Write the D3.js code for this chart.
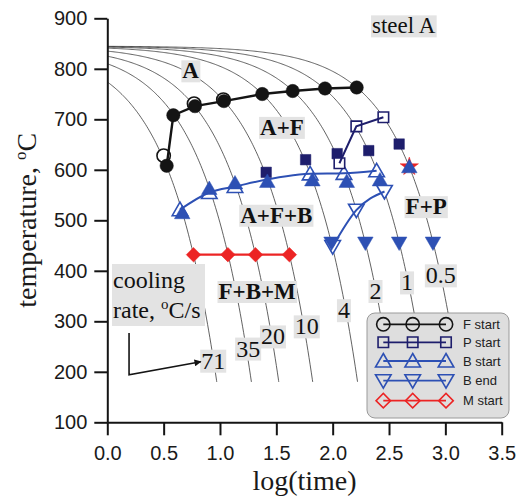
<!DOCTYPE html>
<html>
<head>
<meta charset="utf-8">
<script src="https://cdn.jsdelivr.net/npm/d3@7"></script>
<style>
  body { margin: 0; background: #fff; }
  svg { display: block; }
</style>
</head>
<body>
<div id="chart"></div>
<script>
// cooling rates (°C/s) of the curves, start temperature and end temperature
var coolingRates = [71, 35, 20, 10, 4, 2, 1, 0.5];
var startTemp = 845;
var endTemp = 180;

// where each rate label sits (log time, temperature)
var rateLabelX = [0.94, 1.25, 1.47, 1.77, 2.10, 2.38, 2.66, 2.96];
var rateLabelT = [222, 246, 270, 290, 322, 360, 377, 391];

// F start: filled circles (with line) and open circles
var fFillX = [0.527, 0.586, 0.778, 1.035, 1.375, 1.645, 1.932, 2.213];
var fFillT = [608, 708, 726, 736, 750, 756, 761, 763];
var fOpenX = [0.50, 0.77, 1.03];
var fOpenT = [628, 731, 739];

// P start: open squares (with line) and filled squares
var pOpenX = [2.06, 2.21, 2.45];
var pOpenT = [613, 686, 704];
var pFillX = [1.41, 1.76, 2.04, 2.32, 2.59];
var pFillT = [595, 620, 632, 638, 651];

// B start: open triangles (with line) and filled triangles
var bsOpenX = [0.645, 0.905, 1.133, 1.80, 2.10, 2.39];
var bsOpenT = [521, 555, 567, 592, 593, 598];
var bsFillX = [0.665, 0.905, 1.133, 1.42, 1.82, 2.125, 2.42, 2.68];
var bsFillT = [515, 563, 574, 577, 580, 577, 580, 606];

// B end: open down triangles (with line) and filled down triangles
var beOpenX = [2.0, 2.21, 2.46];
var beOpenT = [448, 520, 557];
var beFillX = [1.99, 2.29, 2.59, 2.89];
var beFillT = [455, 455, 455, 455];

// M start: filled diamonds
var msX = [0.765, 1.07, 1.315, 1.616];
var msT = [432, 432, 432, 432];

// red star below the last B start point
var starX = [2.68];
var starT = [606];

var xTicks = [0, 0.5, 1, 1.5, 2, 2.5, 3, 3.5];
var yTicks = [100, 200, 300, 400, 500, 600, 700, 800, 900];

var width = 532, height = 500;

var svg = d3.select("#chart").append("svg")
    .attr("width", width)
    .attr("height", height);

var x = d3.scaleLinear().domain([0, 3.5]).range([107.3, 501.7]);
var y = d3.scaleLinear().domain([100, 900]).range([422.3, 18.3]);

var BLACK = "#141414", NAVY = "#1e1e6c", BLUE = "#2d50b4", RED = "#ec2424";

function pts(xs, ts) {
    return xs.map(function(v, i) { return [v, ts[i]]; });
}

// cooling curves: constant rate, T = start - rate * t, plotted against log10(t)
var curveG = svg.append("g");
coolingRates.forEach(function(r) {
    var xEnd = Math.log10((startTemp - endTemp) / r);
    var xs = d3.range(0, xEnd, 0.01).concat([xEnd]);
    var line = d3.line()
        .x(function(v) { return x(v); })
        .y(function(v) { return y(startTemp - r * Math.pow(10, v)); });
    curveG.append("path")
        .attr("d", line(xs))
        .attr("fill", "none")
        .attr("stroke", "#3a3a3a")
        .attr("stroke-width", 0.8);
});

// axes
var yAxis = d3.axisLeft(y).tickValues(yTicks).tickSizeInner(13).tickSizeOuter(0).tickPadding(7);
var xAxis = d3.axisBottom(x).tickValues(xTicks).tickSizeInner(13).tickSizeOuter(0).tickPadding(11)
    .tickFormat(d3.format(".1f"));

var gy = svg.append("g").attr("transform", "translate(" + x(0) + ",0)").call(yAxis);
var gx = svg.append("g").attr("transform", "translate(0," + y(100) + ")").call(xAxis);
[gx, gy].forEach(function(g) {
    g.select(".domain").attr("stroke", BLACK).attr("stroke-width", 2);
    g.selectAll(".tick line").attr("stroke", BLACK).attr("stroke-width", 2);
    g.selectAll(".tick text")
        .attr("fill", "#1a1a1a")
        .style("font-family", "Liberation Sans, Arial, sans-serif")
        .style("font-size", "20px");
});

// axis titles
svg.append("text")
    .attr("transform", "translate(36," + (y(100) + y(900)) / 2 + ") rotate(-90)")
    .attr("text-anchor", "middle")
    .style("font-family", "Liberation Serif, Times New Roman, serif")
    .style("font-size", "28px")
    .attr("fill", "#1a1a1a")
    .text("temperature, ")
    .append("tspan").attr("dy", -10).style("font-size", "17px").text("o")
    .select(function() { return this.parentNode; })
    .append("tspan").attr("dy", 10).text("C");

svg.append("text")
    .attr("x", (x(0) + x(3.5)) / 2)
    .attr("y", 490)
    .attr("text-anchor", "middle")
    .style("font-family", "Liberation Serif, Times New Roman, serif")
    .style("font-size", "28px")
    .attr("fill", "#1a1a1a")
    .text("log(time)");

// text with grey box behind
function boxedText(px, py, str, size, bold) {
    var g = svg.append("g");
    var t = g.append("text")
        .attr("x", px).attr("y", py)
        .attr("text-anchor", "middle")
        .attr("dominant-baseline", "central")
        .style("font-family", "Liberation Serif, Times New Roman, serif")
        .style("font-size", size + "px")
        .style("font-weight", bold ? "bold" : "normal")
        .attr("fill", "#111")
        .text(str);
    var b = t.node().getBBox();
    g.insert("rect", "text")
        .attr("x", b.x - 1).attr("y", b.y + 2)
        .attr("width", b.width + 2).attr("height", b.height - 3)
        .attr("fill", "#e3e3e3");
    return g;
}

// rate labels
coolingRates.forEach(function(r, i) {
    boxedText(x(rateLabelX[i]), y(rateLabelT[i]), String(r), 24, false);
});

// phase labels
boxedText(x(0.74), y(796), "A", 23, true);
boxedText(x(1.55), y(684), "A+F", 23, true);
boxedText(x(1.50), y(510), "A+F+B", 23, true);
boxedText(x(2.83), y(527), "F+P", 23, true);
boxedText(x(1.33), y(359), "F+B+M", 23, true);
boxedText(x(2.63), y(885), "steel A", 23, false);

// cooling rate note
var note = svg.append("g");
note.append("rect").attr("x", 112).attr("y", 264).attr("width", 93).attr("height", 62).attr("fill", "#e3e3e3");
note.append("text").attr("x", 113).attr("y", 288)
    .style("font-family", "Liberation Serif, Times New Roman, serif").style("font-size", "24px").attr("fill", "#111")
    .text("cooling");
var t2 = note.append("text").attr("x", 113).attr("y", 318)
    .style("font-family", "Liberation Serif, Times New Roman, serif").style("font-size", "24px").attr("fill", "#111")
    .text("rate, ");
t2.append("tspan").attr("dy", -9).style("font-size", "15px").text("o");
t2.append("tspan").attr("dy", 9).text("C/s");

// arrow to the 71 curve
svg.append("defs").append("marker")
    .attr("id", "arr").attr("viewBox", "0 0 10 10").attr("refX", 9).attr("refY", 5)
    .attr("markerWidth", 9).attr("markerHeight", 7).attr("markerUnits", "userSpaceOnUse")
    .attr("orient", "auto")
    .append("path").attr("d", "M0,0L10,5L0,10z").attr("fill", BLACK);
var arrowPts = [[0.193, 277], [0.193, 194], [0.83, 220]];
svg.append("path")
    .attr("d", d3.line().x(function(d) { return x(d[0]); }).y(function(d) { return y(d[1]); })(arrowPts))
    .attr("fill", "none").attr("stroke", BLACK).attr("stroke-width", 1.6)
    .attr("marker-end", "url(#arr)");

// series lines
var lin = d3.line().x(function(d) { return x(d[0]); }).y(function(d) { return y(d[1]); });
var smooth = d3.line().curve(d3.curveMonotoneX).x(function(d) { return x(d[0]); }).y(function(d) { return y(d[1]); });

function drawLine(gen, data, color, w) {
    svg.append("path").attr("d", gen(data)).attr("fill", "none").attr("stroke", color).attr("stroke-width", w);
}

// marker shapes
var shapes = {
    circle: { type: d3.symbolCircle, size: 140, rot: 0 },
    square: { type: d3.symbolSquare, size: 110, rot: 0 },
    up: { type: d3.symbolTriangle, size: 105, rot: 0 },
    down: { type: d3.symbolTriangle, size: 105, rot: 180 },
    diamond: { type: d3.symbolSquare, size: 105, rot: 45 },
    star: { type: d3.symbolStar, size: 105, rot: 0 }
};

function drawMarks(parent, data, shape, color, filled, fx, fy) {
    var s = shapes[shape];
    parent.selectAll(null).data(data).enter().append("path")
        .attr("d", d3.symbol().type(s.type).size(s.size)())
        .attr("transform", function(d) {
            var dy = (shape === "up") ? 1.5 : (shape === "down" ? -1.5 : 0);
            return "translate(" + fx(d) + "," + (fy(d) + dy) + ") rotate(" + s.rot + ")";
        })
        .attr("fill", filled ? color : "#fff")
        .attr("stroke", color)
        .attr("stroke-width", filled ? 0.5 : 1.6);
}

var fxD = function(d) { return x(d[0]); }, fyD = function(d) { return y(d[1]); };

var marks = svg.append("g");
// open markers go below
drawMarks(marks, pts(fOpenX, fOpenT), "circle", BLACK, false, fxD, fyD);
drawMarks(marks, pts(bsOpenX, bsOpenT), "up", BLUE, false, fxD, fyD);
drawMarks(marks, pts(starX, starT), "star", RED, true, fxD, fyD);

var lines = svg.append("g");
drawLine(lin, pts(fFillX, fFillT), BLACK, 2.4);
drawLine(smooth, pts(bsOpenX, bsOpenT), BLUE, 2);

var marks2 = svg.append("g");
drawMarks(marks2, pts(pFillX, pFillT), "square", NAVY, true, fxD, fyD);
drawMarks(marks2, pts(fFillX, fFillT), "circle", BLACK, true, fxD, fyD);
drawMarks(marks2, pts(bsFillX, bsFillT), "up", BLUE, true, fxD, fyD);
drawMarks(marks2, pts(beOpenX, beOpenT), "down", BLUE, false, fxD, fyD);
drawMarks(marks2, pts(pOpenX, pOpenT), "square", NAVY, false, fxD, fyD);
drawLine(lin, pts(pOpenX, pOpenT), NAVY, 2);
drawLine(smooth, pts(beOpenX, beOpenT), BLUE, 2);
drawLine(lin, pts(msX, msT), RED, 2.4);
var marks3 = svg.append("g");
drawMarks(marks3, pts(beFillX, beFillT), "down", BLUE, true, fxD, fyD);
drawMarks(marks3, pts(msX, msT), "diamond", RED, true, fxD, fyD);

// legend
var legendNames = ["F start", "P start", "B start", "B end", "M start"];
var legendShapes = ["circle", "square", "up", "down", "diamond"];
var legendColors = [BLACK, NAVY, BLUE, BLUE, RED];
var legendRowY = [324.3, 342.3, 361, 380.7, 400.7];
var legendSymX = [383.3, 412.7, 446];

var lg = svg.append("g");
lg.append("rect").attr("x", 367).attr("y", 313).attr("width", 142).attr("height", 105)
    .attr("rx", 8).attr("fill", "#dedede").attr("stroke", "#9a9a9a").attr("stroke-width", 1);
legendNames.forEach(function(name, i) {
    var yy = legendRowY[i];
    lg.append("line").attr("x1", legendSymX[0]).attr("x2", legendSymX[2])
        .attr("y1", yy).attr("y2", yy).attr("stroke", legendColors[i]).attr("stroke-width", 1.8);
    var s = shapes[legendShapes[i]];
    lg.selectAll(null).data(legendSymX).enter().append("path")
        .attr("d", d3.symbol().type(s.type).size(s.size)())
        .attr("transform", function(d) {
            var dy = (legendShapes[i] === "up") ? 1.5 : (legendShapes[i] === "down" ? -1.5 : 0);
            return "translate(" + d + "," + (yy + dy) + ") rotate(" + s.rot + ")";
        })
        .attr("fill", "none").attr("stroke", legendColors[i]).attr("stroke-width", 1.6);
    lg.append("text").attr("x", 463).attr("y", yy)
        .attr("dominant-baseline", "central")
        .style("font-family", "Liberation Sans, Arial, sans-serif").style("font-size", "13px")
        .attr("fill", "#222")
        .text(name);
});
</script>
</body>
</html>
